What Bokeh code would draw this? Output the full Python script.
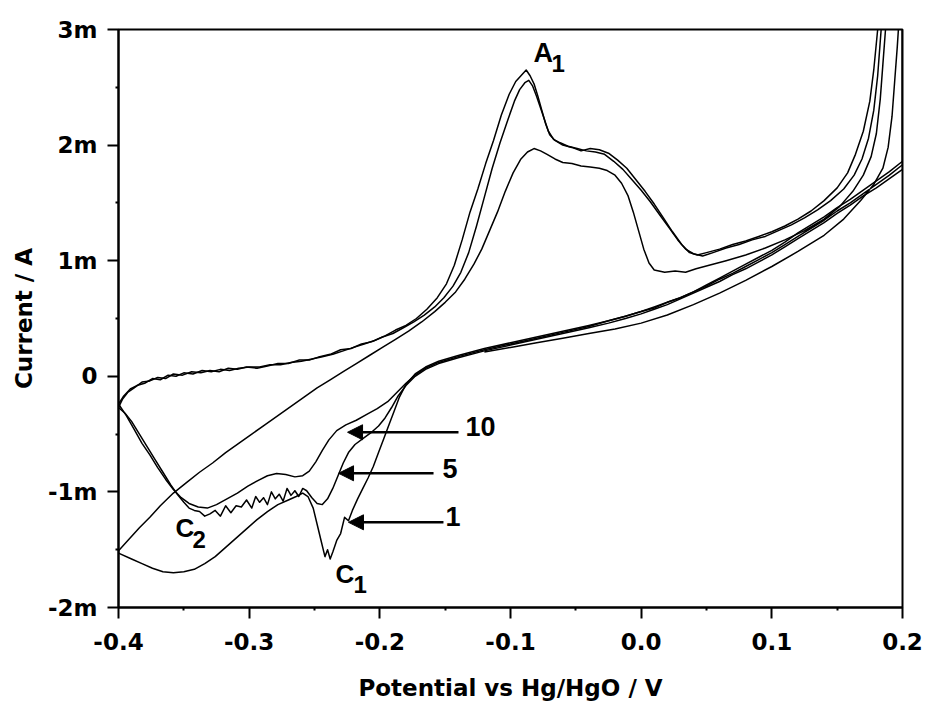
from bokeh.plotting import figure
from bokeh.models import (Range1d, FixedTicker, CustomJSTickFormatter, Label, Arrow, NormalHead)
from bokeh.embed import file_html
from bokeh.resources import INLINE

# ---------------- data (potential in V, current in mA) ----------------
# cycle 10
cyc10_E = [-0.400, -0.396, -0.391, -0.386, -0.380, -0.374, -0.368, -0.362, -0.356, -0.350, -0.343, -0.336,
           -0.329, -0.322, -0.315, -0.308, -0.300, -0.292, -0.284, -0.276, -0.268, -0.260, -0.252, -0.244,
           -0.236, -0.228, -0.220, -0.212, -0.204, -0.196, -0.188, -0.180, -0.172, -0.164, -0.156, -0.149,
           -0.143, -0.137, -0.131, -0.125, -0.119, -0.113, -0.107, -0.101, -0.096, -0.092, -0.088, -0.085,
           -0.082, -0.079, -0.076, -0.073, -0.070, -0.066, -0.060, -0.053, -0.046, -0.039, -0.032, -0.025,
           -0.018, -0.011, -0.004, 0.003, 0.010, 0.017, 0.024, 0.031, 0.037, 0.043, 0.050, 0.060, 0.070,
           0.080, 0.090, 0.100, 0.110, 0.120, 0.130, 0.140, 0.150, 0.158, 0.164, 0.170, 0.175, 0.178, 0.181,
           0.184, 0.190, 0.200,
           0.200, 0.190, 0.180, 0.170, 0.160, 0.150, 0.140, 0.130, 0.120, 0.110, 0.100, 0.090, 0.080, 0.070,
           0.060, 0.050, 0.040, 0.030, 0.020, 0.010, 0.000, -0.012, -0.025, -0.040, -0.060, -0.080, -0.100,
           -0.120, -0.140, -0.155, -0.165, -0.173, -0.180, -0.187, -0.194, -0.202, -0.210, -0.218, -0.226,
           -0.233, -0.239, -0.244, -0.249, -0.254, -0.259, -0.265, -0.272, -0.279, -0.286, -0.293, -0.301,
           -0.309, -0.317, -0.325, -0.332, -0.339, -0.346, -0.352, -0.358, -0.364, -0.370, -0.376, -0.382,
           -0.388, -0.394, -0.400]
cyc10_I = [-0.24, -0.17, -0.11, -0.08, -0.06, -0.02, -0.03, 0.01, 0.00, 0.03, 0.02, 0.05,
           0.04, 0.06, 0.05, 0.07, 0.08, 0.08, 0.10, 0.10, 0.12, 0.13, 0.15, 0.17,
           0.19, 0.22, 0.25, 0.28, 0.31, 0.35, 0.40, 0.44, 0.50, 0.58, 0.68, 0.80,
           0.96, 1.18, 1.42, 1.62, 1.84, 2.04, 2.26, 2.44, 2.55, 2.60, 2.65, 2.60,
           2.53, 2.42, 2.30, 2.18, 2.09, 2.04, 2.00, 1.98, 1.95, 1.97, 1.96, 1.93,
           1.87, 1.80, 1.70, 1.60, 1.49, 1.37, 1.25, 1.14, 1.07, 1.05, 1.07, 1.10, 1.14,
           1.17, 1.21, 1.25, 1.30, 1.36, 1.43, 1.52, 1.63, 1.76, 1.92, 2.12, 2.38, 2.65, 3.00,
           3.60, 4.50, 5.50,
           1.86, 1.77, 1.69, 1.61, 1.53, 1.46, 1.38, 1.31, 1.24, 1.16, 1.09, 1.03, 0.97, 0.91,
           0.85, 0.79, 0.73, 0.68, 0.64, 0.59, 0.56, 0.52, 0.48, 0.43, 0.38, 0.33, 0.28,
           0.23, 0.17, 0.12, 0.07, 0.01, -0.06, -0.14, -0.22, -0.28, -0.33, -0.38, -0.42,
           -0.47, -0.55, -0.64, -0.74, -0.82, -0.86, -0.87, -0.85, -0.84, -0.86, -0.90, -0.95,
           -1.01, -1.06, -1.11, -1.14, -1.13, -1.10, -1.05, -0.98, -0.89, -0.79, -0.68, -0.58,
           -0.46, -0.34, -0.24]

# cycle 5
cyc5_E = [-0.400, -0.397, -0.393, -0.388, -0.382, -0.376, -0.370, -0.364, -0.358, -0.351, -0.344, -0.337,
          -0.330, -0.323, -0.316, -0.309, -0.302, -0.294, -0.286, -0.278, -0.270, -0.262, -0.254, -0.246,
          -0.238, -0.230, -0.222, -0.214, -0.206, -0.198, -0.190, -0.182, -0.174, -0.166, -0.158, -0.151,
          -0.144, -0.138, -0.132, -0.126, -0.120, -0.114, -0.108, -0.102, -0.097, -0.093, -0.089, -0.086,
          -0.083, -0.080, -0.077, -0.074, -0.071, -0.067, -0.062, -0.056, -0.049, -0.042, -0.035, -0.028,
          -0.021, -0.014, -0.007, 0.000, 0.007, 0.014, 0.021, 0.028, 0.034, 0.040, 0.047, 0.055, 0.065,
          0.075, 0.085, 0.095, 0.105, 0.115, 0.125, 0.135, 0.145, 0.155, 0.163, 0.169, 0.174, 0.178, 0.181,
          0.183, 0.185, 0.190, 0.200,
          0.200, 0.190, 0.180, 0.170, 0.160, 0.150, 0.140, 0.130, 0.120, 0.110, 0.100, 0.090, 0.080, 0.070,
          0.060, 0.050, 0.040, 0.030, 0.020, 0.010, 0.000, -0.012, -0.025, -0.040, -0.060, -0.080, -0.100,
          -0.120, -0.140, -0.155, -0.165, -0.173, -0.180, -0.186, -0.191, -0.196, -0.201, -0.207, -0.213,
          -0.219, -0.224, -0.228, -0.232, -0.236, -0.240, -0.244, -0.248, -0.252, -0.256, -0.259, -0.262,
          -0.265, -0.268, -0.271, -0.274, -0.277, -0.280, -0.283, -0.286, -0.289, -0.292, -0.295, -0.298,
          -0.302, -0.306, -0.310, -0.314, -0.318, -0.322, -0.326, -0.330, -0.334, -0.338, -0.342, -0.346,
          -0.350, -0.355, -0.360, -0.366, -0.372, -0.378, -0.384, -0.390, -0.395, -0.400]
cyc5_I = [-0.27, -0.20, -0.14, -0.10, -0.05, -0.04, -0.01, -0.02, 0.02, 0.01, 0.04, 0.03,
          0.05, 0.04, 0.07, 0.06, 0.08, 0.07, 0.09, 0.11, 0.11, 0.14, 0.14, 0.17,
          0.19, 0.23, 0.24, 0.28, 0.30, 0.34, 0.37, 0.42, 0.47, 0.53, 0.60, 0.68,
          0.78, 0.90, 1.07, 1.30, 1.55, 1.80, 2.02, 2.22, 2.38, 2.48, 2.54, 2.56,
          2.51, 2.42, 2.32, 2.22, 2.12, 2.05, 2.02, 1.99, 1.97, 1.95, 1.94, 1.92,
          1.86, 1.79, 1.70, 1.61, 1.51, 1.40, 1.29, 1.18, 1.10, 1.06, 1.04, 1.07, 1.11,
          1.14, 1.18, 1.21, 1.26, 1.31, 1.37, 1.44, 1.52, 1.62, 1.74, 1.88, 2.06, 2.30, 2.60,
          2.90, 3.20, 4.20, 5.40,
          1.79, 1.71, 1.63, 1.56, 1.48, 1.41, 1.33, 1.26, 1.19, 1.12, 1.05, 0.99, 0.93, 0.88,
          0.82, 0.77, 0.72, 0.67, 0.62, 0.58, 0.54, 0.50, 0.46, 0.42, 0.37, 0.32, 0.27,
          0.22, 0.16, 0.11, 0.06, 0.00, -0.08, -0.17, -0.27, -0.36, -0.43, -0.49, -0.54,
          -0.59, -0.66, -0.75, -0.86, -0.97, -1.06, -1.11, -1.10, -1.05, -0.99, -0.97, -1.04,
          -0.99, -1.03, -0.97, -1.08, -1.02, -1.06, -1.00, -1.11, -1.05, -1.09, -1.04, -1.14,
          -1.07, -1.13, -1.12, -1.18, -1.12, -1.21, -1.16, -1.19, -1.21, -1.17, -1.16, -1.14,
          -1.09, -1.02, -0.94, -0.83, -0.72, -0.61, -0.50, -0.39, -0.32, -0.27]

# cycle 1 (first anodic segment, cathodic sweep, second anodic sweep)
cyc1_E = [-0.120, -0.100, -0.080, -0.060, -0.040, -0.020, 0.000, 0.020, 0.040, 0.060, 0.080, 0.100,
          0.120, 0.140, 0.155, 0.168, 0.178, 0.185, 0.189, 0.192, 0.194, 0.196, 0.198, 0.200,
          0.200, 0.190, 0.180, 0.170, 0.160, 0.150, 0.140, 0.130, 0.120, 0.110, 0.100, 0.090, 0.080,
          0.070, 0.060, 0.050, 0.040, 0.030, 0.020, 0.010, 0.000, -0.012, -0.025, -0.040, -0.060,
          -0.080, -0.100, -0.120, -0.140, -0.155, -0.165, -0.173, -0.180, -0.185, -0.189, -0.193,
          -0.197, -0.201, -0.205, -0.209, -0.213, -0.217, -0.221, -0.224, -0.227, -0.230, -0.233,
          -0.236, -0.238, -0.240, -0.242, -0.245, -0.248, -0.251, -0.255, -0.259, -0.264, -0.270,
          -0.278, -0.286, -0.294, -0.302, -0.310, -0.318, -0.326, -0.334, -0.342, -0.350, -0.358,
          -0.366, -0.374, -0.382, -0.390, -0.400,
          -0.400, -0.392, -0.384, -0.376, -0.368, -0.358, -0.348, -0.338, -0.328, -0.318, -0.308,
          -0.298, -0.288, -0.278, -0.268, -0.258, -0.248, -0.238, -0.228, -0.218, -0.208, -0.198,
          -0.188, -0.178, -0.168, -0.158, -0.150, -0.142, -0.135, -0.128, -0.122, -0.116, -0.110,
          -0.104, -0.098, -0.092, -0.087, -0.082, -0.077, -0.072, -0.066, -0.060, -0.053, -0.046,
          -0.039, -0.032, -0.026, -0.020, -0.015, -0.010, -0.006, -0.002, 0.002, 0.006, 0.010,
          0.018, 0.026, 0.034, 0.042, 0.052, 0.065, 0.080, 0.095, 0.110, 0.125, 0.140, 0.152,
          0.162, 0.170, 0.176, 0.180, 0.183, 0.185, 0.187, 0.190]
cyc1_I = [0.21, 0.25, 0.29, 0.33, 0.37, 0.41, 0.46, 0.53, 0.62, 0.72, 0.83, 0.95,
          1.08, 1.22, 1.36, 1.52, 1.66, 1.80, 1.98, 2.25, 2.55, 2.85, 3.20, 3.80,
          1.83, 1.74, 1.66, 1.58, 1.50, 1.43, 1.35, 1.28, 1.21, 1.14, 1.07, 1.01, 0.95,
          0.89, 0.84, 0.78, 0.73, 0.68, 0.64, 0.60, 0.56, 0.52, 0.48, 0.44, 0.39,
          0.34, 0.29, 0.24, 0.18, 0.13, 0.08, 0.02, -0.07, -0.18, -0.30, -0.42,
          -0.54, -0.66, -0.78, -0.88, -0.97, -1.06, -1.16, -1.25, -1.22, -1.36, -1.42,
          -1.52, -1.58, -1.50, -1.56, -1.42, -1.28, -1.14, -1.04, -1.01, -1.04, -1.07,
          -1.11, -1.17, -1.24, -1.32, -1.40, -1.48, -1.56, -1.62, -1.67, -1.69, -1.70,
          -1.69, -1.66, -1.62, -1.58, -1.53,
          -1.51, -1.41, -1.31, -1.22, -1.12, -1.01, -0.92, -0.83, -0.75, -0.66, -0.58,
          -0.50, -0.42, -0.34, -0.26, -0.18, -0.10, -0.03, 0.04, 0.11, 0.18, 0.25,
          0.32, 0.39, 0.47, 0.56, 0.64, 0.73, 0.84, 0.97, 1.10, 1.26, 1.42,
          1.60, 1.76, 1.88, 1.94, 1.97, 1.95, 1.92, 1.88, 1.85, 1.84, 1.82,
          1.81, 1.80, 1.78, 1.74, 1.67, 1.56, 1.42, 1.26, 1.10, 0.98, 0.92,
          0.90, 0.91, 0.90, 0.93, 0.96, 1.00, 1.05, 1.11, 1.18, 1.26, 1.36, 1.47,
          1.60, 1.74, 1.90, 2.10, 2.40, 2.70, 3.00, 3.60]

x_ticks = [-0.4, -0.3, -0.2, -0.1, 0.0, 0.1, 0.2]
x_minor = [-0.35, -0.25, -0.15, -0.05, 0.05, 0.15]
y_ticks = [-2, -1, 0, 1, 2, 3]
y_minor = [-1.5, -0.5, 0.5, 1.5, 2.5]

# ---------------- figure ----------------
p = figure(width=927, height=711, output_backend="svg", toolbar_location=None,
           x_range=Range1d(-0.4, 0.2), y_range=Range1d(-2, 3),
           min_border_left=118, min_border_right=25, min_border_top=29, min_border_bottom=104)
p.background_fill_color = "white"
p.border_fill_color = "white"
p.outline_line_color = "black"
p.outline_line_width = 2
p.xgrid.visible = False
p.ygrid.visible = False

for E, I in [(cyc1_E, cyc1_I), (cyc5_E, cyc5_I), (cyc10_E, cyc10_I)]:
    p.line(E, I, line_color="black", line_width=1.5, line_join="round")

AX_FONT = "DejaVu Sans"
for ax in (p.xaxis[0], p.yaxis[0]):
    ax.axis_line_width = 2
    ax.axis_line_color = "black"
    ax.major_tick_out = 11
    ax.major_tick_in = 0
    ax.minor_tick_out = 3
    ax.minor_tick_in = 0
    ax.major_tick_line_width = 2
    ax.minor_tick_line_width = 2
    ax.major_label_text_font = AX_FONT
    ax.major_label_text_font_style = "bold"
    ax.major_label_text_font_size = "23px"
    ax.major_label_text_color = "black"
    ax.axis_label_text_font = AX_FONT
    ax.axis_label_text_font_style = "bold"
    ax.axis_label_text_font_size = "23px"
    ax.axis_label_text_color = "black"

p.xaxis.major_label_standoff = 14
p.yaxis.major_label_standoff = 10
p.xaxis.ticker = FixedTicker(ticks=x_ticks, minor_ticks=x_minor)
p.yaxis.ticker = FixedTicker(ticks=y_ticks, minor_ticks=y_minor)
p.xaxis.formatter = CustomJSTickFormatter(code="return Math.abs(tick) < 1e-9 ? '0.0' : tick.toFixed(1);")
p.yaxis.formatter = CustomJSTickFormatter(code="return Math.abs(tick) < 1e-9 ? '0' : tick.toFixed(0) + 'm';")
p.xaxis.axis_label = "Potential vs Hg/HgO / V"
p.yaxis.axis_label = "Current / A"
p.xaxis.axis_label_standoff = 22
p.yaxis.axis_label_standoff = 8

# ---------------- annotations ----------------
ANN_FONT = "Liberation Sans"
labels = [
    ("A", -0.0824, 2.796, "27px"), ("1", -0.0686, 2.71, "24px"),
    ("C", -0.2339, -1.71, "26px"), ("1", -0.2201, -1.797, "24px"),
    ("C", -0.3564, -1.313, "26px"), ("2", -0.3433, -1.408, "24px"),
    ("10", -0.1344, -0.430, "27px"), ("5", -0.1520, -0.794, "27px"), ("1", -0.1497, -1.209, "27px"),
]
for txt, lx, ly, fs in labels:
    p.add_layout(Label(x=lx, y=ly, text=txt, text_font=ANN_FONT, text_font_style="bold",
                       text_font_size=fs, text_color="black", text_align="left",
                       text_baseline="alphabetic"))

arrows = [(-0.1398, -0.484, -0.2247, -0.484),
          (-0.1589, -0.839, -0.2316, -0.839),
          (-0.1513, -1.263, -0.2240, -1.263)]
for xs, ys, xe, ye in arrows:
    p.add_layout(Arrow(end=NormalHead(size=15, line_color="black", fill_color="black", line_width=1),
                       x_start=xs, y_start=ys, x_end=xe, y_end=ye,
                       line_color="black", line_width=2.5))

open("out.html", "w").write(file_html(p, INLINE))
